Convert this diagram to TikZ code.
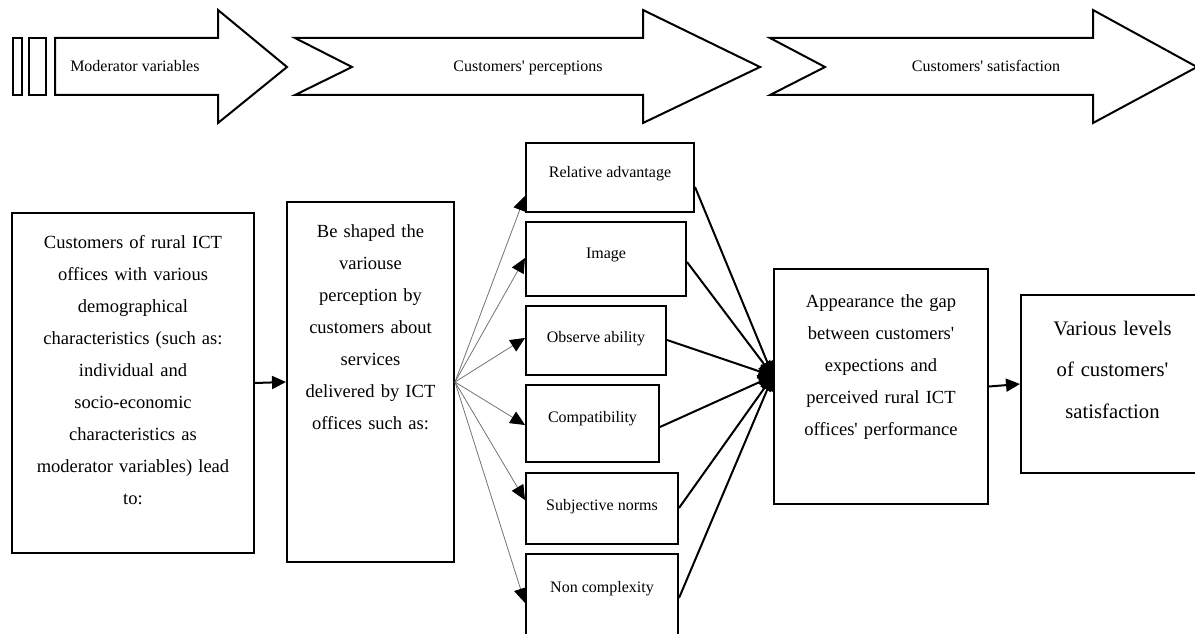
\documentclass[tikz,border=0pt]{standalone}
\usepackage{fontspec}
\setmainfont{Liberation Serif}
\usetikzlibrary{arrows.meta,fit}
\newcommand{\ap}{\textquotesingle}
\begin{document}
\begin{tikzpicture}[x=0.75pt,y=-0.75pt,
  box/.style={draw, line width=1.5pt, inner sep=0pt},
  bigarrow/.style={draw, line width=1.5pt, line join=miter},
  smalltxt/.style={font=\fontsize{12}{14}\selectfont, inner sep=0pt},
  midtxt/.style={font=\fontsize{13.9}{24}\selectfont, align=center, inner sep=0pt, text width=240},
  largetxt/.style={font=\fontsize{15.5}{31.3}\selectfont, align=center, inner sep=0pt, text width=240},
  fanarrow/.style={draw=black!55, line width=0.6pt, -{Triangle[length=11pt,width=10pt,color=black]}},
  convarrow/.style={draw=black, line width=1.5pt, -{Triangle[length=11pt,width=11pt]}},
  linkarrow/.style={draw=black, line width=1.5pt, -{Triangle[length=10.5pt,width=9.75pt]}}
]
\clip (0,0) rectangle (1195,634);

% ---------- top banner ----------
\draw[bigarrow] (13,38) rectangle (22,95);
\draw[bigarrow] (29,38) rectangle (46,95);
\draw[bigarrow] (55,38) -- (218,38) -- (218,10) -- (287,67) -- (218,123) -- (218,95) -- (55,95) -- cycle;
\draw[bigarrow] (295,38) -- (643,38) -- (643,10) -- (760,67) -- (643,123) -- (643,95) -- (295,95) -- (352,67) -- cycle;
\draw[bigarrow] (770,38) -- (1093,38) -- (1093,10) -- (1197,67) -- (1093,123) -- (1093,95) -- (770,95) -- (825,67) -- cycle;
\node[smalltxt, anchor=base west] (tmod) at (70,72) {Moderator variables};
\node[smalltxt, anchor=base] (tper) at (528,72) {Customers\ap{} perceptions};
\node[smalltxt, anchor=base] (tsat) at (986,72) {Customers\ap{} satisfaction};

% ---------- boxes ----------
\node[box, fit={(12,213) (254,553)}] (b1) {};
\node[midtxt, anchor=base] (t1) at (133,249) {Customers of rural ICT\\offices with various\\demographical\\characteristics (such as:\\individual and\\socio-economic\\characteristics as\\moderator variables) lead\\to:};

\node[box, fit={(287,202) (454,562)}] (b2) {};
\node[midtxt, anchor=base] (t2) at (370.5,238) {Be shaped the\\variouse\\perception by\\customers about\\services\\delivered by ICT\\offices such as:};

\node[box, fit={(526,143) (694,212)}] (rel) {};
\node[smalltxt, anchor=base] (trel) at (610,178) {Relative advantage};
\node[box, fit={(526,222) (686,296)}] (img) {};
\node[smalltxt, anchor=base] (timg) at (606,259) {Image};
\node[box, fit={(526,306) (666,375)}] (obs) {};
\node[smalltxt, anchor=base] (tobs) at (596,343) {Observe ability};
\node[box, fit={(526,385) (659,462)}] (com) {};
\node[smalltxt, anchor=base] (tcom) at (592.5,422) {Compatibility};
\node[box, fit={(526,473) (678,544)}] (sub) {};
\node[smalltxt, anchor=base] (tsub) at (602,510) {Subjective norms};
\node[box, fit={(526,554) (678,650)}] (non) {};
\node[smalltxt, anchor=base] (tnon) at (602,592) {Non complexity};

\node[box, fit={(774,269) (988,504)}] (gap) {};
\node[midtxt, anchor=base] (tgap) at (881,308) {Appearance the gap\\between customers\ap\\expections and\\perceived rural ICT\\offices\ap{} performance};

\node[box, fit={(1021,295) (1204,473)}] (lev) {};
\node[largetxt, anchor=base] (tlev) at (1112.5,335) {Various levels\\of customers\ap\\satisfaction};

% ---------- connectors ----------
\draw[linkarrow] (b1.east) -- (b2.west);
\coordinate (fan) at (b2.east);
\draw[fanarrow] (fan) -- (rel.west |- 0,196);
\draw[fanarrow] (fan) -- (img.west |- 0,258);
\draw[fanarrow] (fan) -- (obs.west |- 0,338);
\draw[fanarrow] (fan) -- (com.west |- 0,425);
\draw[fanarrow] (fan) -- (sub.west |- 0,500);
\draw[fanarrow] (fan) -- (non.west |- 0,603);

\coordinate (hub) at (gap.west |- 0,376);
\draw[convarrow] (rel.east |- 0,187) -- (hub);
\draw[convarrow] (img.east |- 0,262) -- (hub);
\draw[convarrow] (obs.east |- 0,340) -- (hub);
\draw[convarrow] (com.east |- 0,427) -- (hub);
\draw[convarrow] (sub.east |- 0,508) -- (hub);
\draw[convarrow] (non.east |- 0,598) -- (hub);
\fill ([yshift=-10.5pt]hub) arc[start angle=270, end angle=90, radius=10.5pt] -- cycle;

\draw[linkarrow] (gap.east) -- (lev.west);
\end{tikzpicture}
\end{document}
